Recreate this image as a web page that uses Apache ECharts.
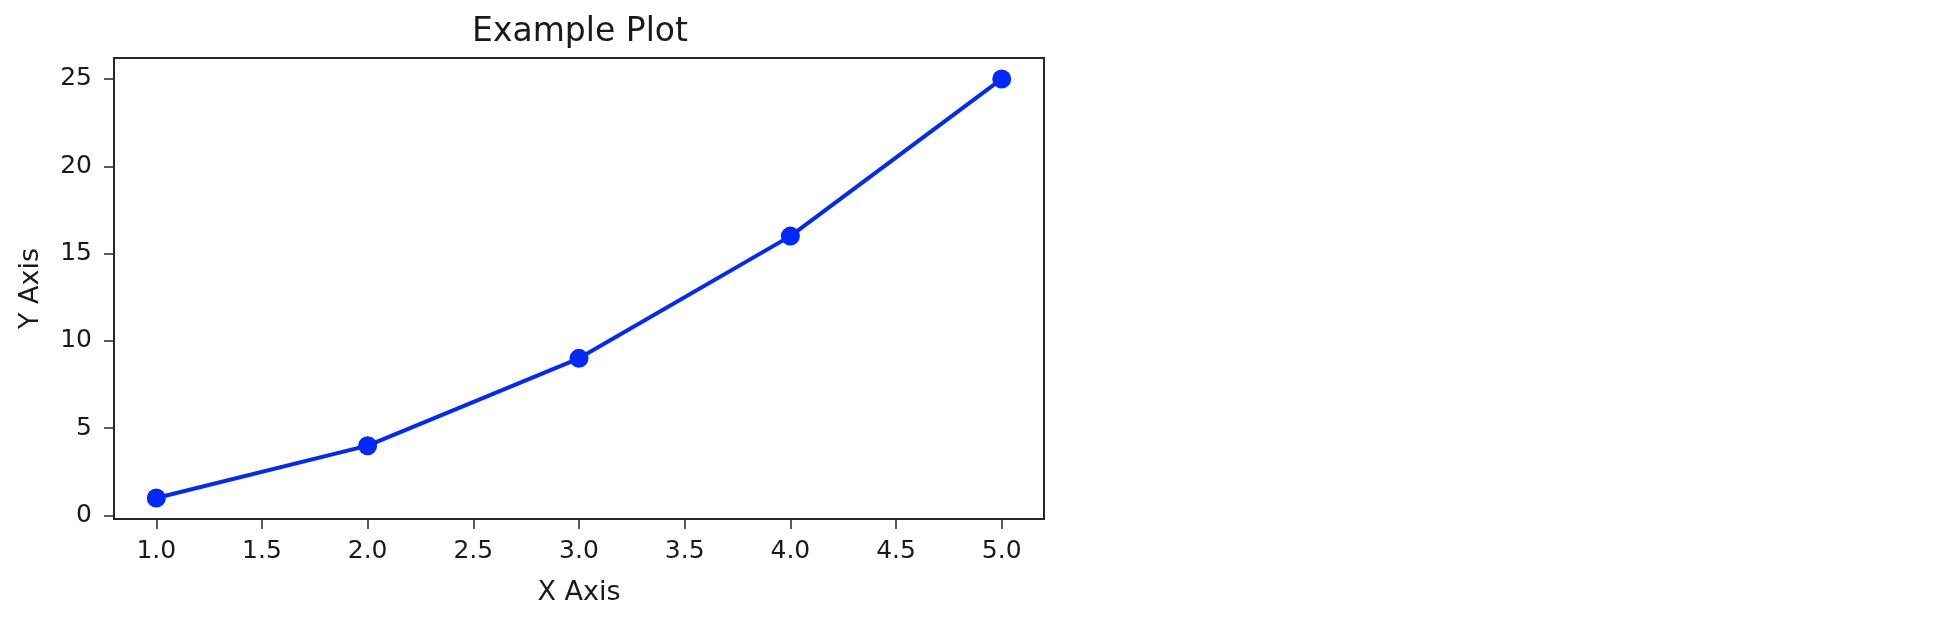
<!DOCTYPE html>
<html>
<head>
<meta charset="utf-8">
<title>Example Plot</title>
<script src="https://cdn.jsdelivr.net/npm/echarts@6/dist/echarts.min.js"></script>
<style>
  html, body { margin: 0; padding: 0; background: #fff; }
  #main { width: 1956px; height: 622px; }
</style>
</head>
<body>
<div id="main"></div>
<script>
// data
var xValues = [1, 2, 3, 4, 5];
var yValues = [1, 4, 9, 16, 25];
var xTicks = [1.0, 1.5, 2.0, 2.5, 3.0, 3.5, 4.0, 4.5, 5.0];
var yTicks = [0, 5, 10, 15, 20, 25];

var points = [];
for (var i = 0; i < xValues.length; i++) {
    points.push([xValues[i], yValues[i]]);
}

var axisColor = '#262626';
var font = 'DejaVu Sans';

var myChart = echarts.init(document.getElementById('main'));

var option = {
    animation: false,
    backgroundColor: '#fff',
    title: {
        text: 'Example Plot',
        left: 575,
        textAlign: 'center',
        top: 11,
        textStyle: {
            fontFamily: font,
            fontSize: 33,
            fontWeight: 'normal',
            color: '#1a1a1a'
        }
    },
    //绘图区，画出外框
    grid: {
        left: 114,
        top: 58,
        width: 930,
        height: 461,
        show: true,
        borderColor: axisColor,
        borderWidth: 2,
        containLabel: false
    },
    xAxis: {
        type: 'value',
        min: 0.8,
        max: 5.2,
        name: 'X Axis',
        nameLocation: 'middle',
        nameGap: 60,
        nameTextStyle: { fontFamily: font, fontSize: 27, color: '#1a1a1a' },
        splitLine: { show: false },
        axisLine: { show: true, onZero: false, lineStyle: { color: axisColor, width: 2 } },
        axisTick: {
            show: true,
            length: 10,
            customValues: xTicks,
            lineStyle: { color: axisColor, width: 1.5 }
        },
        axisLabel: {
            customValues: xTicks,
            margin: 20,
            fontFamily: font,
            fontSize: 25,
            color: '#1a1a1a',
            formatter: function (v) { return v.toFixed(1); }
        }
    },
    yAxis: {
        type: 'value',
        min: -0.2,
        max: 26.2,
        name: 'Y Axis',
        nameLocation: 'middle',
        nameRotate: 90,
        nameGap: 70,
        nameTextStyle: { fontFamily: font, fontSize: 27, color: '#1a1a1a' },
        splitLine: { show: false },
        axisLine: { show: true, onZero: false, lineStyle: { color: axisColor, width: 2 } },
        axisTick: {
            show: true,
            length: 10,
            customValues: yTicks,
            lineStyle: { color: axisColor, width: 1.5 }
        },
        axisLabel: {
            customValues: yTicks,
            margin: 22,
            fontFamily: font,
            fontSize: 25,
            color: '#1a1a1a'
        }
    },
    series: [
        {
            type: 'line',
            data: points,
            symbol: 'circle',
            symbolSize: 19,
            lineStyle: { color: '#0028ff', width: 4 },
            itemStyle: { color: '#0028ff' }
        }
    ]
};

myChart.setOption(option);
</script>
</body>
</html>
